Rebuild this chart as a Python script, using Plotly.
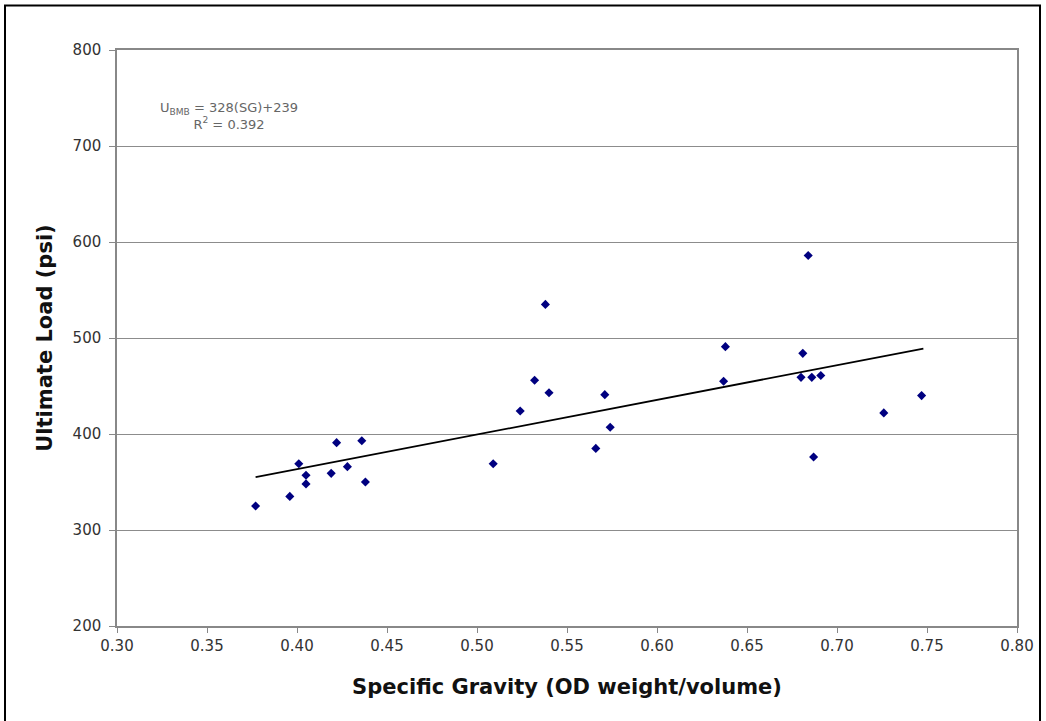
import numpy as np
import plotly.graph_objects as go

# Data
specific_gravity = [0.377, 0.396, 0.401, 0.405, 0.405, 0.419, 0.422, 0.428, 0.436, 0.438,
                    0.509, 0.524, 0.532, 0.538, 0.540, 0.566, 0.571, 0.574,
                    0.638, 0.637, 0.684, 0.681, 0.680, 0.686, 0.691, 0.687, 0.726, 0.747]
ultimate_load = [325, 335, 369, 357, 348, 359, 391, 366, 393, 350,
                 369, 424, 456, 535, 443, 385, 441, 407,
                 491, 455, 586, 484, 459, 459, 461, 376, 422, 440]

trend_x = [0.377, 0.748]
trend_y = [355, 489]

x_ticks = [0.30, 0.35, 0.40, 0.45, 0.50, 0.55, 0.60, 0.65, 0.70, 0.75, 0.80]
y_ticks = [200, 300, 400, 500, 600, 700, 800]

fig = go.Figure()
fig.add_trace(go.Scatter(
    x=specific_gravity, y=ultimate_load, mode="markers",
    marker=dict(symbol="diamond", size=7, color="#000080"),
    showlegend=False, hoverinfo="x+y"))
fig.add_trace(go.Scatter(
    x=trend_x, y=trend_y, mode="lines",
    line=dict(color="black", width=1.8),
    showlegend=False, hoverinfo="skip"))

fig.add_annotation(
    x=0.362, y=731, xref="x", yref="y",
    text="U<sub>BMB</sub> = 328(SG)+239<br>R<sup>2</sup> = 0.392",
    showarrow=False, align="center",
    font=dict(family="DejaVu Sans", size=13, color="#666666"))

# Outer chart border
fig.add_shape(type="rect", xref="paper", yref="paper",
              x0=(5 - 117) / 900, x1=(1040 - 117) / 900,
              y0=(626 - 730) / 576, y1=(626 - 5.5) / 576,
              line=dict(color="black", width=2), fillcolor="rgba(0,0,0,0)", layer="below")

axis_font = dict(family="DejaVu Sans", size=15, color="#333333")
title_font = dict(family="DejaVu Sans", size=21, color="#111111")

fig.update_layout(
    width=1046, height=721,
    margin=dict(l=117, r=29, t=50, b=95),
    paper_bgcolor="white", plot_bgcolor="white",
    xaxis=dict(
        range=[0.30, 0.80], tickvals=x_ticks,
        ticktext=[f"{v:.2f}" for v in x_ticks],
        showgrid=False, zeroline=False,
        showline=True, linecolor="#888888", linewidth=1.5, mirror=True,
        ticks="outside", ticklen=5, tickcolor="#888888",
        tickfont=axis_font,
        title=dict(text="<b>Specific Gravity (OD weight/volume)</b>", font=title_font, standoff=26),
    ),
    yaxis=dict(
        range=[200, 800], tickvals=y_ticks,
        showgrid=True, gridcolor="#8c8c8c", gridwidth=1.2, zeroline=False,
        showline=True, linecolor="#888888", linewidth=1.5, mirror=True,
        ticks="outside", ticklen=6, tickcolor="#888888",
        ticklabelstandoff=5,
        tickfont=axis_font,
        title=dict(text="<b>Ultimate Load (psi)</b>", font=title_font, standoff=14),
    ),
)

fig.write_html("out.html")
